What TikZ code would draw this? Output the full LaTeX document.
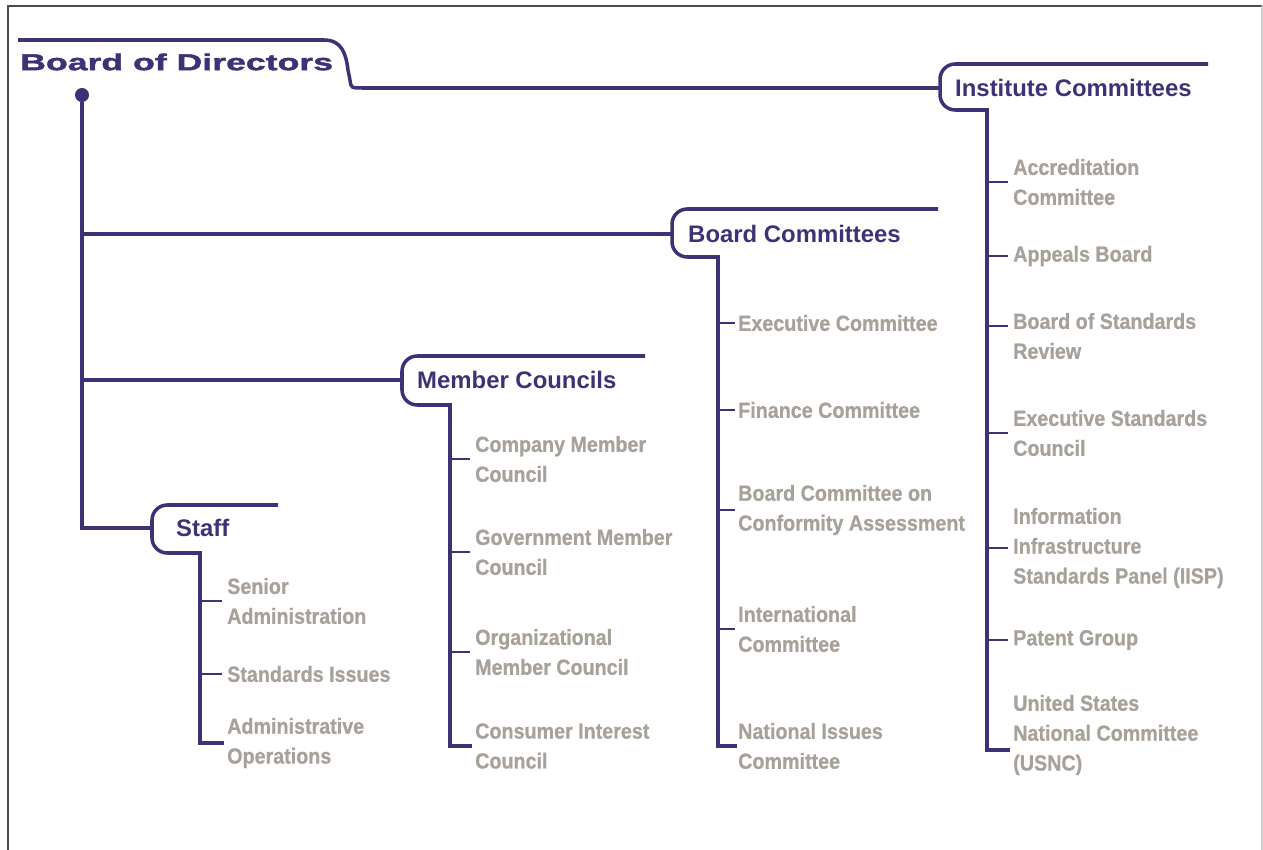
\documentclass[tikz,border=0pt]{standalone}
\usepackage{fontspec}
\setmainfont{Liberation Sans}
\newfontfamily\itemfont[FakeStretch=0.9,FakeBold=0.8]{Liberation Sans}
\newfontfamily\titlefont[FakeStretch=1.56,FakeBold=2]{Liberation Sans}
\usetikzlibrary{calc}
\definecolor{orgpurple}{HTML}{3E3277}
\definecolor{orggray}{HTML}{A8A19A}

\begin{document}
\begin{tikzpicture}[
  x=0.03cm, y=-0.03cm,
  line/.style={draw=orgpurple, line width=3pt},
  tick/.style={draw=orgpurple, line width=2.4pt},
  brk/.style={line, rounded corners=13pt},
  title/.style={anchor=west, inner sep=0pt, text=orgpurple, font=\titlefont\bfseries\fontsize{19.5}{24}\selectfont},
  head/.style={anchor=west, inner sep=0pt, text=orgpurple, font=\bfseries\fontsize{20.4}{24}\selectfont},
  item/.style={anchor=west, inner sep=0pt, align=left, text=orggray, font=\itemfont\bfseries\fontsize{18.7}{25.5}\selectfont}
]
\useasboundingbox (0,0) rectangle (1263,850);
% frame
\draw[black!70, line width=1.8pt] (8,850) -- (8,6) -- (1262,6);
\draw[black!20, line width=1.2pt] (1262,6) -- (1262,850);

% headings
\node[title] (bod) at (20,62) {Board of Directors};
\node[head] (ic) at (955,88) {Institute Committees};
\node[head] (bc) at (688,234) {Board Committees};
\node[head] (mc) at (417,380) {Member Councils};
\node[head] (staff) at (176,528) {Staff};
\node[circle, fill=orgpurple, inner sep=0pt, minimum size=12pt] (root) at (82,95) {};

% bracket points
\coordinate (icL) at (940,88);
\coordinate (bcL) at (672,234);
\coordinate (mcL) at (402,380);
\coordinate (staffL) at (152,528);
\coordinate (icS) at (987,110);
\coordinate (bcS) at (718,257);
\coordinate (mcS) at (450,405);
\coordinate (staffS) at (200,553);

% staff
\node[item] (sa) at (227,601) {Senior\\Administration};
\node[item] (si) at (227,674) {Standards Issues};
\node[item] (ao) at (227,743) {Administrative\\Operations};
% member councils
\node[item] (cmc) at (475,459) {Company Member\\Council};
\node[item] (gmc) at (475,552) {Government Member\\Council};
\node[item] (omc) at (475,652) {Organizational\\Member Council};
\node[item] (cic) at (475,746) {Consumer Interest\\Council};
% board committees
\node[item] (exc) at (738,323) {Executive Committee};
\node[item] (fin) at (738,410) {Finance Committee};
\node[item] (bcca) at (738,510) {Board Committee on\\Conformity Assessment};
\node[item] (intl) at (738,629) {International\\Committee};
\node[item] (nic) at (738,746) {National Issues\\Committee};
% institute committees
\node[item] (acc) at (1013,182) {Accreditation\\Committee};
\node[item] (app) at (1013,256) {Appeals Board};
\node[item] (bsr) at (1013,336) {Board of Standards\\Review};
\node[item] (esc) at (1013,433) {Executive Standards\\Council};
\node[item] (iisp) at (1013,548) {Information\\Infrastructure\\Standards Panel (IISP)};
\node[item] (pat) at (1013,640) {Patent Group};
\node[item] (usnc) at (1013,735) {United States\\National Committee\\(USNC)};

% top rule
\draw[line] (18,40) -- (324,40) .. controls (342,40) and (346,54) .. (348,70) -- (350,80) .. controls (351,88) .. (363,88) -- (icL);
% spine from the board
\draw[line] (root) |- (staffL);
\draw[line] (root |- bcL) -- (bcL);
\draw[line] (root |- mcL) -- (mcL);

% brackets
\draw[brk] (1208,64) -- (940,64) -- (940,110) -- (icS);
\draw[brk] (938,209) -- (672,209) -- (672,257) -- (bcS);
\draw[brk] (645,356) -- (402,356) -- (402,405) -- (mcS);
\draw[brk] (278,505) -- (152,505) -- (152,553) -- (staffS);

% spines and ticks
\draw[line, line cap=rect] (icS) |- ($(usnc.west)+(-5,15)$);
\draw[tick] (icS |- acc.west) -- ($(acc.west)+(-5,0)$);
\draw[tick] (icS |- app.west) -- ($(app.west)+(-5,0)$);
\draw[tick] ($(icS |- bsr.west)+(0,-10)$) -- ($(bsr.west)+(-5,-10)$);
\draw[tick] (icS |- esc.west) -- ($(esc.west)+(-5,0)$);
\draw[tick] (icS |- iisp.west) -- ($(iisp.west)+(-5,0)$);
\draw[tick] (icS |- pat.west) -- ($(pat.west)+(-5,0)$);

\draw[line, line cap=rect] (bcS) |- ($(nic.west)+(-3,0)$);
\draw[tick] (bcS |- exc.west) -- ($(exc.west)+(-3,0)$);
\draw[tick] (bcS |- fin.west) -- ($(fin.west)+(-3,0)$);
\draw[tick] (bcS |- bcca.west) -- ($(bcca.west)+(-3,0)$);
\draw[tick] (bcS |- intl.west) -- ($(intl.west)+(-3,0)$);

\draw[line, line cap=rect] (mcS) |- ($(cic.west)+(-5,0)$);
\draw[tick] (mcS |- cmc.west) -- ($(cmc.west)+(-5,0)$);
\draw[tick] (mcS |- gmc.west) -- ($(gmc.west)+(-5,0)$);
\draw[tick] (mcS |- omc.west) -- ($(omc.west)+(-5,0)$);

\draw[line, line cap=rect] (staffS) |- ($(ao.west)+(-5,0)$);
\draw[tick] (staffS |- sa.west) -- ($(sa.west)+(-5,0)$);
\draw[tick] (staffS |- si.west) -- ($(si.west)+(-5,0)$);
\end{tikzpicture}
\end{document}
